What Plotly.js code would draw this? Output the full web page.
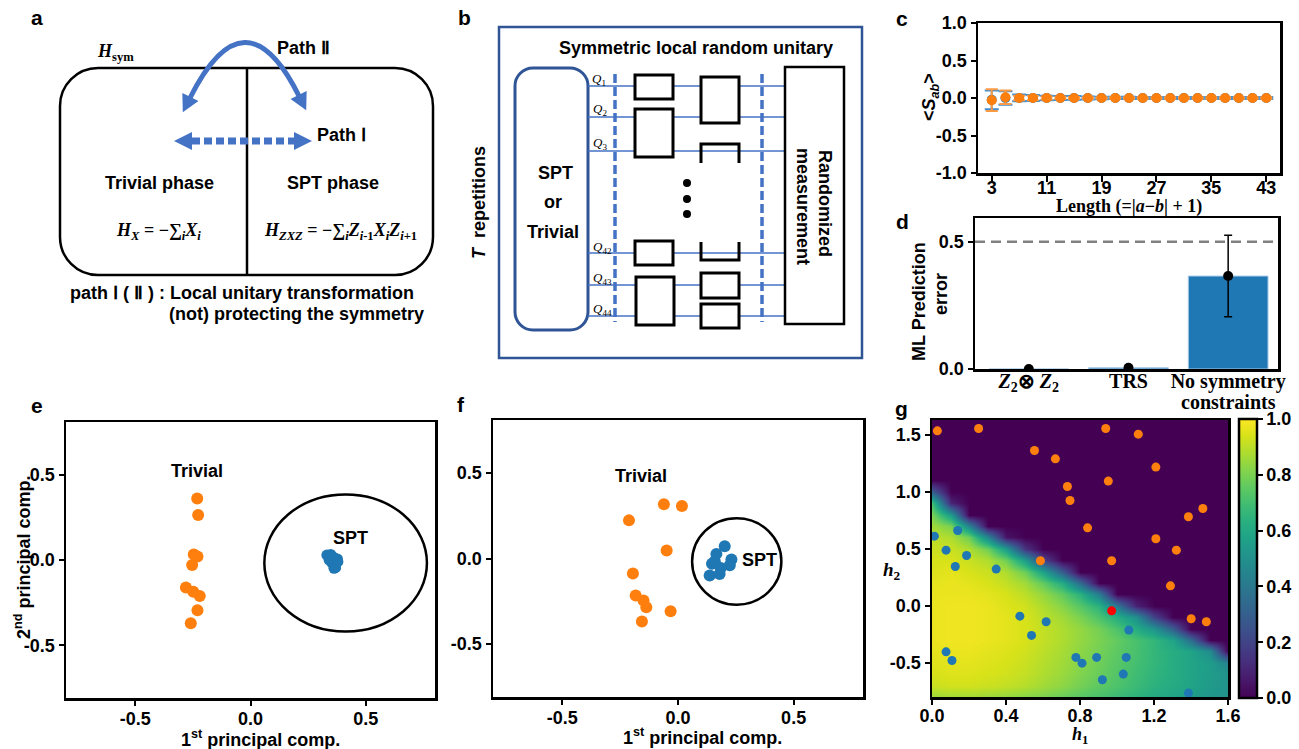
<!DOCTYPE html>
<html><head><meta charset="utf-8">
<script src="https://cdn.plot.ly/plotly-3.0.1.min.js"></script>
<style>html,body{margin:0;padding:0;background:#fff}#chart{width:1299px;height:749px}</style>
</head><body><div id="chart"></div>
<script>
// ================= DATA =================
// panel c : string order parameter vs length
const lengthVals = [3,5,7,9,11,13,15,17,19,21,23,25,27,29,31,33,35,37,39,41,43];
const lengthTicks = [3,11,19,27,35,43];
const sabTrivial = [-0.03,0.01,0,0,0,0,0,0,0,0,0,0,0,0,0,0,0,0,0,0,0];
const sabTrivialErr = [0.145,0.09,0.03,0.03,0.02,0.015,0.012,0.01,0.01,0.01,0.01,0.01,0.01,0.01,0.01,0.01,0.01,0.01,0.01,0.01,0.01];
const sabSPT = [-0.025,0,0,0,0,0,0,0,0,0,0,0,0,0,0,0,0,0,0,0,0];
const sabSPTErr = [0.125,0.09,0.045,0.04,0.03,0.028,0.025,0.02,0.018,0.015,0.015,0.012,0.012,0.012,0.012,0.012,0.012,0.012,0.012,0.012,0.012];
const sabTickVals = [-1,-0.5,0,0.5,1];
const sabTickText = ['-1.0','-0.5','0.0','0.5','1.0'];

// panel d : ML prediction error
const symCategories = ['Z2xZ2','TRS','No symmetry constraints'];
const symTickLabels = ['<i>Z</i><sub>2</sub>\u2297 <i>Z</i><sub>2</sub>','TRS','No symmetry'];
const mlError = [0.0, 0.005, 0.365];
const mlErrorBar = [0, 0, 0.16];
const mlRefLevel = 0.5;

// panel e : PCA (symmetric)
const eTrivX = [-0.231,-0.227,-0.246,-0.230,-0.253,-0.280,-0.248,-0.220,-0.230,-0.259];
const eTrivY = [0.361,0.264,0.033,0.020,-0.029,-0.162,-0.186,-0.211,-0.295,-0.371];
const eSptX = [0.331,0.348,0.362,0.377,0.341,0.355,0.362,0.369,0.345,0.379];
const eSptY = [0.029,0.033,0.014,0.006,0.0,-0.020,-0.049,-0.045,0.010,-0.010];

// panel f : PCA (other)
const fTrivX = [-0.061,0.017,-0.212,-0.049,-0.195,-0.183,-0.149,-0.137,-0.032,-0.156];
const fTrivY = [0.317,0.307,0.223,0.047,-0.088,-0.217,-0.246,-0.285,-0.309,-0.368];
const fSptX = [0.202,0.166,0.231,0.147,0.224,0.185,0.137,0.180,0.159];
const fSptY = [0.072,0.027,-0.006,-0.031,-0.039,-0.055,-0.100,-0.090,-0.016];
const pcTickVals = [-0.5,0,0.5];
const pcTickText = ['-0.5','0.0','0.5'];

// panel g : phase diagram
const gTrivH1 = [0.029,0.252,0.939,1.115,0.554,0.667,1.210,0.732,0.953,0.746,1.464,1.386,0.841,1.210,1.321,0.586,0.971,1.289,1.401,1.483];
const gTrivH2 = [1.535,1.555,1.555,1.506,1.362,1.289,1.217,1.047,1.094,0.924,0.854,0.781,0.684,0.588,0.488,0.395,0.395,0.175,-0.114,-0.140];
const gSptH1 = [0.013,0.139,0.076,0.187,0.126,0.347,0.475,0.617,0.538,1.064,0.076,0.108,0.778,0.811,0.890,1.050,0.921,1.034,1.386];
const gSptH2 = [0.611,0.661,0.488,0.441,0.345,0.322,-0.091,-0.140,-0.260,-0.213,-0.404,-0.480,-0.453,-0.503,-0.453,-0.453,-0.649,-0.599,-0.766];
const gTestH1 = [0.971];
const gTestH2 = [-0.044];
const gridH1 = [0,0.1,0.2,0.3,0.4,0.5,0.6,0.7,0.8,0.9,1.0,1.1,1.2,1.3,1.4,1.5,1.6];
const gridH2 = [-0.8,-0.7,-0.6,-0.5,-0.4,-0.3,-0.2,-0.1,0,0.1,0.2,0.3,0.4,0.5,0.6,0.7,0.8,0.9,1.0,1.1,1.2,1.3,1.4,1.5,1.6];
const probSPT = [
 [0.85,0.86,0.86,0.85,0.84,0.82,0.80,0.77,0.74,0.71,0.68,0.64,0.61,0.58,0.55,0.52,0.50],
 [0.92,0.93,0.93,0.92,0.91,0.89,0.86,0.83,0.79,0.75,0.72,0.68,0.64,0.61,0.58,0.54,0.51],
 [0.94,0.95,0.95,0.94,0.93,0.91,0.88,0.85,0.81,0.77,0.73,0.69,0.65,0.62,0.58,0.55,0.51],
 [0.95,0.96,0.96,0.95,0.94,0.92,0.89,0.86,0.82,0.78,0.74,0.70,0.66,0.62,0.58,0.55,0.45],
 [0.96,0.97,0.97,0.96,0.95,0.93,0.90,0.87,0.83,0.79,0.75,0.71,0.66,0.62,0.58,0.48,0.00],
 [0.97,0.98,0.98,0.97,0.96,0.94,0.91,0.88,0.84,0.80,0.76,0.71,0.66,0.58,0.35,0.00,0.00],
 [0.97,0.98,0.98,0.97,0.96,0.94,0.91,0.88,0.84,0.79,0.72,0.62,0.52,0.30,0.00,0.00,0.00],
 [0.97,0.98,0.98,0.97,0.96,0.94,0.90,0.86,0.80,0.72,0.62,0.50,0.20,0.00,0.00,0.00,0.00],
 [0.97,0.98,0.98,0.97,0.95,0.93,0.88,0.82,0.74,0.64,0.40,0.10,0.00,0.00,0.00,0.00,0.00],
 [0.97,0.97,0.97,0.96,0.94,0.90,0.84,0.76,0.64,0.42,0.00,0.00,0.00,0.00,0.00,0.00,0.00],
 [0.96,0.97,0.96,0.94,0.91,0.86,0.76,0.62,0.35,0.00,0.00,0.00,0.00,0.00,0.00,0.00,0.00],
 [0.95,0.96,0.94,0.92,0.88,0.78,0.58,0.30,0.00,0.00,0.00,0.00,0.00,0.00,0.00,0.00,0.00],
 [0.94,0.94,0.92,0.88,0.78,0.55,0.20,0.00,0.00,0.00,0.00,0.00,0.00,0.00,0.00,0.00,0.00],
 [0.92,0.92,0.88,0.78,0.55,0.15,0.00,0.00,0.00,0.00,0.00,0.00,0.00,0.00,0.00,0.00,0.00],
 [0.90,0.88,0.78,0.45,0.05,0.00,0.00,0.00,0.00,0.00,0.00,0.00,0.00,0.00,0.00,0.00,0.00],
 [0.86,0.80,0.45,0.00,0.00,0.00,0.00,0.00,0.00,0.00,0.00,0.00,0.00,0.00,0.00,0.00,0.00],
 [0.80,0.55,0.00,0.00,0.00,0.00,0.00,0.00,0.00,0.00,0.00,0.00,0.00,0.00,0.00,0.00,0.00],
 [0.70,0.10,0.00,0.00,0.00,0.00,0.00,0.00,0.00,0.00,0.00,0.00,0.00,0.00,0.00,0.00,0.00],
 [0.30,0.00,0.00,0.00,0.00,0.00,0.00,0.00,0.00,0.00,0.00,0.00,0.00,0.00,0.00,0.00,0.00],
 [0,0,0,0,0,0,0,0,0,0,0,0,0,0,0,0,0],
 [0,0,0,0,0,0,0,0,0,0,0,0,0,0,0,0,0],
 [0,0,0,0,0,0,0,0,0,0,0,0,0,0,0,0,0],
 [0,0,0,0,0,0,0,0,0,0,0,0,0,0,0,0,0],
 [0,0,0,0,0,0,0,0,0,0,0,0,0,0,0,0,0],
 [0,0,0,0,0,0,0,0,0,0,0,0,0,0,0,0,0]
];
const h1TickVals = [0,0.4,0.8,1.2,1.6];
const h1TickText = ['0.0','0.4','0.8','1.2','1.6'];
const h2TickVals = [-0.5,0,0.5,1.0,1.5];
const h2TickText = ['-0.5','0.0','0.5','1.0','1.5'];
const cbTickVals = [0,0.2,0.4,0.6,0.8,1.0];
const cbTickText = ['0.0','0.2','0.4','0.6','0.8','1.0'];

// ================= STYLE / LAYOUT =================
const W = 1299, H = 749;
const SANS = 'Arial, "Liberation Sans", sans-serif';
const SERIF = '"Liberation Serif", "Times New Roman", serif';
const ORANGE = '#ff7f0e', BLUE = '#1f77b4', ABLUE = '#4472C4', DBLUE = '#2F5597';
const dx = (a,b) => [a/W, b/W];
const dy = (top,bottom) => [1-bottom/H, 1-top/H];

const tickFont = {family:SANS, size:18, color:'black', weight:'bold'};
function ax(extra){
  return Object.assign({showline:true, linecolor:'black', linewidth:2.5, mirror:true,
    ticks:'outside', ticklen:5, tickwidth:2, tickcolor:'black', showgrid:false, zeroline:false,
    tickfont:tickFont, automargin:false, fixedrange:true}, extra);
}

const traces = [];
// c
traces.push({type:'scatter', mode:'markers', x:lengthVals, y:sabSPT, xaxis:'x', yaxis:'y',
  marker:{size:10, color:BLUE},
  error_y:{type:'data', array:sabSPTErr, visible:true, color:'#3f8fd2', thickness:2, width:7},
  showlegend:false, hoverinfo:'skip'});
traces.push({type:'scatter', mode:'markers', x:lengthVals, y:sabTrivial, xaxis:'x', yaxis:'y',
  marker:{size:10, color:ORANGE},
  error_y:{type:'data', array:sabTrivialErr, visible:true, color:'#fb9a45', thickness:2, width:6},
  showlegend:false, hoverinfo:'skip'});
// d
traces.push({type:'bar', x:symCategories, y:mlError, xaxis:'x2', yaxis:'y2', width:0.8,
  marker:{color:BLUE, line:{color:'#a9cbe8', width:1}}, showlegend:false, hoverinfo:'skip'});
traces.push({type:'scatter', mode:'markers', x:symCategories, y:mlError, xaxis:'x2', yaxis:'y2',
  marker:{size:10, color:'black'},
  error_y:{type:'data', array:mlErrorBar, visible:true, color:'black', thickness:1.5, width:4},
  showlegend:false, hoverinfo:'skip'});
// e
traces.push({type:'scatter', mode:'markers', x:eTrivX, y:eTrivY, xaxis:'x3', yaxis:'y3',
  marker:{size:12, color:ORANGE}, showlegend:false, hoverinfo:'skip'});
traces.push({type:'scatter', mode:'markers', x:eSptX, y:eSptY, xaxis:'x3', yaxis:'y3',
  marker:{size:11, color:BLUE}, showlegend:false, hoverinfo:'skip'});
// f
traces.push({type:'scatter', mode:'markers', x:fTrivX, y:fTrivY, xaxis:'x4', yaxis:'y4',
  marker:{size:12, color:ORANGE}, showlegend:false, hoverinfo:'skip'});
traces.push({type:'scatter', mode:'markers', x:fSptX, y:fSptY, xaxis:'x4', yaxis:'y4',
  marker:{size:12, color:BLUE}, showlegend:false, hoverinfo:'skip'});
// g
traces.push({type:'heatmap', x:gridH1, y:gridH2, z:probSPT, xaxis:'x5', yaxis:'y5',
  colorscale:'Viridis', zmin:0, zmax:1, zsmooth:'best', hoverinfo:'skip',
  colorbar:{x:1239/W, xanchor:'left', y:1-419/H, yanchor:'top', len:(698-419)/H, lenmode:'fraction',
    thickness:18, thicknessmode:'pixels', xpad:0, ypad:0, outlinewidth:2.5, outlinecolor:'black',
    ticks:'outside', ticklen:5, tickwidth:2, tickcolor:'black', tickvals:cbTickVals, ticktext:cbTickText,
    tickfont:tickFont}});
traces.push({type:'scatter', mode:'markers', x:gTrivH1, y:gTrivH2, xaxis:'x5', yaxis:'y5',
  marker:{size:9, color:ORANGE}, showlegend:false, hoverinfo:'skip'});
traces.push({type:'scatter', mode:'markers', x:gSptH1, y:gSptH2, xaxis:'x5', yaxis:'y5',
  marker:{size:9, color:BLUE}, showlegend:false, hoverinfo:'skip'});
traces.push({type:'scatter', mode:'markers', x:gTestH1, y:gTestH2, xaxis:'x5', yaxis:'y5',
  marker:{size:9, color:'#ff0000'}, showlegend:false, hoverinfo:'skip'});
// overlay pixel canvas for diagrams
traces.push({type:'scatter', mode:'markers', x:[], y:[], xaxis:'x6', yaxis:'y6', showlegend:false, hoverinfo:'skip'});

// ---------- shapes & annotations ----------
const shapes = [];
const ann = [];
function T(text, x, y, o){
  o = o || {};
  ann.push(Object.assign({xref:'x6', yref:'y6', x:x, y:y, text:text, showarrow:false,
    xanchor:'center', yanchor:'middle',
    font:{family:o.family||SANS, size:o.size||18, color:o.color||'black', weight:o.weight||'bold'}},
    o.extra||{}));
}
function P(path, color, width, fill, dash){
  shapes.push({type:'path', xref:'x6', yref:'y6', path:path, layer:'above',
    line:{color:color, width:width, dash:dash||'solid'}, fillcolor:fill||'rgba(0,0,0,0)'});
}
function L(x0,y0,x1,y1,color,width,dash){
  shapes.push({type:'line', xref:'x6', yref:'y6', x0:x0,y0:y0,x1:x1,y1:y1, layer:'above',
    line:{color:color,width:width,dash:dash||'solid'}});
}
function R(x0,y0,x1,y1,color,width,fill){
  shapes.push({type:'rect', xref:'x6', yref:'y6', x0:x0,y0:y0,x1:x1,y1:y1, layer:'above',
    line:{color:color,width:width}, fillcolor:fill||'rgba(0,0,0,0)'});
}
function rr(x0,y0,x1,y1,r){
  const k = 0.5523*r;
  return `M${x0+r},${y0} L${x1-r},${y0} C${x1-r+k},${y0} ${x1},${y0+r-k} ${x1},${y0+r} `+
    `L${x1},${y1-r} C${x1},${y1-r+k} ${x1-r+k},${y1} ${x1-r},${y1} `+
    `L${x0+r},${y1} C${x0+r-k},${y1} ${x0},${y1-r+k} ${x0},${y1-r} `+
    `L${x0},${y0+r} C${x0},${y0+r-k} ${x0+r-k},${y0} ${x0+r},${y0} Z`;
}
function tri(tx,ty,ux,uy,len,hw){
  const n = Math.hypot(ux,uy); ux/=n; uy/=n;
  const bx = tx-ux*len, by = ty-uy*len, nx=-uy, ny=ux;
  return `M${tx},${ty} L${bx+nx*hw},${by+ny*hw} L${bx-nx*hw},${by-ny*hw} Z`;
}

// ---- panel labels ----
[['a',37,17],['b',464,17],['c',902,18],['d',902,221],['e',37,405],['f',461,404],['g',901,408]]
  .forEach(p => T(p[0], p[1], p[2], {size:21}));

// ---- panel a ----
P(rr(60,68,433,275,38), 'black', 2.5);
L(247,68,247,275,'black',2.5);
P('M190,98 Q245,-12 299,96', ABLUE, 5);
P(tri(182.8,112.3,-55,110,17,9), ABLUE, 0, ABLUE);
P(tri(306.2,110.3,54,108,17,9), ABLUE, 0, ABLUE);
L(192,141,294,141,ABLUE,7,'8px,4px');
P(tri(174,141,-1,0,18,9), ABLUE, 0, ABLUE);
P(tri(312,141,1,0,18,9), ABLUE, 0, ABLUE);
T('<i>H</i><sub>sym</sub>', 115, 52, {family:SERIF, size:18});
T('Path \u2161', 303, 48);
T('Path \u2160', 341, 135);
T('Trivial phase', 159, 183);
T('SPT phase', 333, 183);
T('<i>H<sub>X</sub></i> = \u2212\u2211<sub><i>i</i></sub><i>X<sub>i</sub></i>', 158, 231, {family:SERIF, size:18});
T('<i>H<sub>ZXZ</sub></i> = \u2212\u2211<sub><i>i</i></sub><i>Z</i><sub><i>i</i>-1</sub><i>X<sub>i</sub>Z</i><sub><i>i</i>+1</sub>', 340, 231, {family:SERIF, size:18});
T('path \u2160 ( \u2161 ) : Local unitary transformation', 68, 293, {extra:{xanchor:'left'}});
T('(not) protecting the symmetry', 426, 314, {extra:{xanchor:'right'}});

// ---- panel b ----
R(499,27,862,358, DBLUE, 2.5);
T('Symmetric local random unitary', 696, 48);
P(rr(515,68,588,330,18), DBLUE, 3);
T('SPT', 555, 173); T('or', 553, 202); T('Trivial', 553, 232);
T('<i>T</i>  repetitions', 479, 203, {extra:{textangle:-90}});
[86,117,151,253,285,316].forEach(y => L(588,y,785,y,ABLUE,1.3));
[['<i>Q</i><sub>1</sub>',599,79],['<i>Q</i><sub>2</sub>',600,109],['<i>Q</i><sub>3</sub>',600,143],
 ['<i>Q</i><sub>42</sub>',602,247],['<i>Q</i><sub>43</sub>',602,278],['<i>Q</i><sub>44</sub>',602,309]]
 .forEach(q => T(q[0], q[1], q[2], {family:SERIF, size:13, weight:'normal'}));
L(615,74,615,322,ABLUE,3.5,'9px,4px');
L(762,74,762,322,ABLUE,3.5,'9px,4px');
R(635,75,673,99,'black',3,'white');
R(635,109,673,157,'black',3,'white');
R(635,241,673,265,'black',3,'white');
R(636,277,674,325,'black',3,'white');
R(701,77,739,123,'black',3,'white');
P('M701,163 L701,144 L739,144 L739,163', 'black', 3);
P('M701,242 L701,260 L739,260 L739,242', 'black', 3);
R(701,273,739,298,'black',3,'white');
R(701,304,739,328,'black',3,'white');
[183,199,214].forEach(y => shapes.push({type:'circle', xref:'x6', yref:'y6', x0:683,x1:691,y0:y-4,y1:y+4,
  layer:'above', line:{width:0}, fillcolor:'black'}));
R(785,67,844,324,'black',2.5,'white');
T('Randomized', 825, 203, {extra:{textangle:90}});
T('measurement', 803, 206, {extra:{textangle:90}});

// ---- panel c titles ----
T('&lt;<i>S</i><sub><i>ab</i></sub>&gt;', 930, 97, {extra:{textangle:-90}});
T('Length (=|<i>a</i>\u2212<i>b</i>| + 1)', 1129, 206, {family:SERIF, size:18});

// ---- panel d ----
shapes.push({type:'line', xref:'x2 domain', yref:'y2', x0:0, x1:1, y0:mlRefLevel, y1:mlRefLevel,
  line:{color:'#808080', width:2.5, dash:'10px,6px'}, layer:'above'});
T('ML Prediction', 919, 302, {extra:{textangle:-90}});
T('error', 941, 294, {extra:{textangle:-90}});
ann.push({xref:'x2', yref:'y6', x:symCategories[2], y:402, text:'constraints', showarrow:false,
  xanchor:'center', yanchor:'middle', font:{family:SERIF, size:20, color:'black', weight:'bold'}});

// ---- panel e ----
shapes.push({type:'circle', xref:'x3', yref:'y3', x0:0.060, x1:0.765, y0:-0.42, y1:0.385,
  line:{color:'black', width:2.5}, layer:'above'});
ann.push({xref:'x3', yref:'y3', x:-0.233, y:0.52, text:'Trivial', showarrow:false,
  font:{family:SANS, size:18, color:'black', weight:'bold'}});
ann.push({xref:'x3', yref:'y3', x:0.434, y:0.127, text:'SPT', showarrow:false,
  font:{family:SANS, size:18, color:'black', weight:'bold'}});
T('2<sup>nd</sup> principal comp.', 22, 558, {extra:{textangle:-90}});
T('1<sup>st</sup> principal comp.', 260, 738);

// ---- panel f ----
shapes.push({type:'circle', xref:'x4', yref:'y4', x0:0.061, x1:0.447, y0:-0.27, y1:0.235,
  line:{color:'black', width:2.5}, layer:'above'});
ann.push({xref:'x4', yref:'y4', x:-0.162, y:0.483, text:'Trivial', showarrow:false,
  font:{family:SANS, size:18, color:'black', weight:'bold'}});
ann.push({xref:'x4', yref:'y4', x:0.353, y:-0.01, text:'SPT', showarrow:false,
  font:{family:SANS, size:18, color:'black', weight:'bold'}});
T('1<sup>st</sup> principal comp.', 702, 736);

// ---- panel g ----
T('<i>h</i><sub>1</sub>', 1080, 735, {family:SERIF, size:18});
T('<i>h</i><sub>2</sub>', 892, 571, {family:SERIF, size:19});

const layout = {
  width:W, height:H, margin:{l:0,r:0,t:0,b:0,pad:0},
  paper_bgcolor:'white', plot_bgcolor:'rgba(0,0,0,0)', showlegend:false,
  font:{family:SANS, color:'black'},
  // c
  xaxis: ax({domain:dx(978,1280), range:[1,45], anchor:'y', tickvals:lengthTicks, ticklen:6, ticklabelstandoff:-9}),
  yaxis: ax({domain:dy(23,173), range:[-1,1], anchor:'x', tickvals:sabTickVals, ticktext:sabTickText}),
  // d
  xaxis2: ax({domain:dx(975,1278), range:[-0.54,2.5], anchor:'y2', ticks:'', type:'category',
    tickvals:symCategories, ticktext:symTickLabels, ticklabelstandoff:-8,
    tickfont:{family:SERIF, size:20, color:'black', weight:'bold'}}),
  yaxis2: ax({domain:dy(218,369), range:[0,0.593], anchor:'x2', tickvals:[0,0.5], ticktext:['0.0','0.5']}),
  // e
  xaxis3: ax({domain:dx(66,435), range:[-0.8,0.8], anchor:'y3', tickvals:pcTickVals, ticktext:pcTickText, ticklabelstandoff:-2}),
  yaxis3: ax({domain:dy(422,698), range:[-0.81,0.81], anchor:'x3', tickvals:pcTickVals, ticktext:pcTickText}),
  // f
  xaxis4: ax({domain:dx(493,863), range:[-0.8,0.8], anchor:'y4', tickvals:pcTickVals, ticktext:pcTickText, ticklabelstandoff:-2}),
  yaxis4: ax({domain:dy(420,697), range:[-0.81,0.81], anchor:'x4', tickvals:pcTickVals, ticktext:pcTickText}),
  // g
  xaxis5: ax({domain:dx(932,1228), range:[0,1.6], anchor:'y5', tickvals:h1TickVals, ticktext:h1TickText, ticklabelstandoff:-4}),
  yaxis5: ax({domain:dy(420,697), range:[-0.8,1.63], anchor:'x5', tickvals:h2TickVals, ticktext:h2TickText}),
  // overlay pixel canvas
  xaxis6: {domain:[0,1], range:[0,W], anchor:'y6', visible:false, fixedrange:true, showgrid:false, zeroline:false},
  yaxis6: {domain:[0,1], range:[H,0], anchor:'x6', visible:false, fixedrange:true, showgrid:false, zeroline:false},
  shapes: shapes,
  annotations: ann
};

Plotly.newPlot('chart', traces, layout, {staticPlot:true, displayModeBar:false});
</script>
</body></html>
